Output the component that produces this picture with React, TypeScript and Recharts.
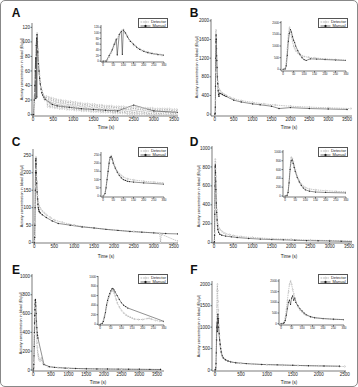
import { LineChart, Line, XAxis, YAxis } from 'recharts';

const FONT = '"Liberation Sans", Arial, Helvetica, sans-serif';

// [time (s), activity (Bq/µl)]
const aDetector = [
  [0, 0], [10, 0], [20, 2], [30, 15], [40, 30], [50, 48], [60, 62], [70, 80], [80, 95], [90, 108],
  [100, 112], [110, 100], [120, 90], [130, 72], [140, 68], [150, 56], [160, 54], [170, 45], [180, 44],
  [190, 38], [200, 37], [210, 32], [220, 33], [230, 28], [240, 29], [250, 25], [260, 26], [270, 22],
  [280, 24], [290, 20], [300, 22],
  [330, 25], [360, 11], [390, 24], [420, 10], [450, 23], [480, 10], [510, 22], [540, 9], [570, 21], [600, 9],
  [630, 20], [660, 8], [690, 20], [720, 8], [750, 19], [780, 8], [810, 19], [840, 7], [870, 18], [900, 7],
  [930, 18], [960, 7], [990, 17], [1020, 6], [1050, 17], [1080, 6], [1110, 16], [1140, 6], [1170, 16],
  [1200, 5], [1230, 15], [1260, 5], [1290, 15], [1320, 5], [1350, 15], [1380, 5], [1410, 14], [1440, 4],
  [1470, 14], [1500, 4], [1530, 14], [1560, 4], [1590, 13], [1620, 4], [1650, 13], [1680, 3], [1710, 13],
  [1740, 3], [1770, 12], [1800, 3], [1830, 12], [1860, 3], [1890, 12], [1920, 3], [1950, 12], [1980, 2],
  [2010, 11], [2040, 2], [2070, 11], [2100, 2], [2130, 11], [2160, 2], [2190, 11], [2220, 2], [2250, 11],
  [2280, 2], [2310, 10], [2340, 1], [2370, 10], [2400, 1], [2430, 10], [2460, 1], [2490, 10], [2520, 1],
  [2550, 10], [2580, 1], [2610, 10], [2640, 1], [2670, 9], [2700, 1], [2730, 9], [2760, 1], [2790, 9],
  [2820, 0], [2850, 9], [2880, 0], [2910, 9], [2940, 0], [2970, 9], [3000, 0], [3030, 8], [3060, 0],
  [3090, 8], [3120, 0], [3150, 8], [3180, 0], [3210, 8], [3240, 0], [3270, 8], [3300, 0], [3330, 8],
  [3360, 0], [3390, 8], [3420, 0], [3450, 7], [3480, 0], [3510, 7], [3540, 0], [3570, 7], [3600, 0],
];
const aManual = [
  [0, 0], [15, 0], [30, 20], [45, 40], [55, 60], [65, 78], [70, 22], [80, 95], [90, 105], [95, 24],
  [100, 110], [110, 100], [120, 86], [135, 70], [150, 60], [165, 50], [180, 42], [200, 35], [220, 30],
  [240, 27], [270, 24], [300, 21], [480, 14], [600, 12], [900, 10], [1200, 8], [1500, 7], [1800, 6],
  [2100, 5], [2500, 13], [3000, 5], [3600, 3],
];

const bDetector = [
  [0, 0], [5, 0], [10, 50], [15, 300], [20, 900], [25, 1500], [30, 1800], [35, 1650], [40, 1400],
  [45, 1200], [50, 1000], [55, 900], [60, 800], [70, 700], [80, 620], [90, 580], [100, 550], [120, 520],
  [150, 490], [200, 450], [250, 420], [300, 400], [400, 360], [500, 330], [700, 290], [1000, 250],
  [1300, 220], [1600, 195], [2000, 170], [2500, 150], [3000, 135], [3600, 120],
];
const bManual = [
  [0, 0], [10, 20], [15, 150], [20, 600], [25, 1200], [30, 1550], [35, 1700], [40, 1600], [45, 1400],
  [50, 1250], [55, 1150], [60, 1000], [70, 800], [80, 650], [90, 500], [100, 420], [110, 380], [130, 450],
  [160, 440], [200, 420], [250, 400], [300, 380], [500, 300], [700, 260], [1000, 220], [1200, 200],
  [1500, 170], [1700, 120], [2000, 140], [2500, 120], [3000, 110], [3500, 100],
];

const cDetector = [
  [0, 0], [5, 5], [10, 20], [15, 60], [20, 110], [25, 160], [30, 210], [35, 240], [40, 245], [45, 230],
  [50, 210], [55, 190], [60, 175], [70, 150], [80, 135], [90, 125], [100, 115], [120, 105], [150, 98],
  [200, 90], [250, 85], [300, 80], [400, 72], [500, 65], [700, 58], [1000, 50], [1500, 42], [2000, 36],
  [2500, 32], [3000, 28], [3150, 26], [3170, 0], [3190, 24], [3600, 4],
];
const cManual = [
  [0, 0], [10, 15], [15, 50], [20, 100], [25, 150], [30, 200], [35, 235], [40, 240], [45, 225], [50, 200],
  [60, 170], [70, 145], [80, 125], [90, 110], [100, 100], [110, 95], [120, 90], [130, 88], [150, 85],
  [200, 80], [300, 72], [450, 62], [600, 55], [900, 50], [1200, 45], [1500, 42], [1800, 38], [2100, 35],
  [2400, 32], [2700, 30], [3000, 28], [3300, 26], [3600, 25],
];

const dDetector = [
  [0, 0], [5, 0], [10, 20], [15, 100], [20, 350], [25, 650], [30, 880], [35, 850], [40, 780], [45, 700],
  [50, 600], [55, 520], [60, 450], [70, 350], [80, 270], [90, 220], [100, 190], [120, 160], [150, 140],
  [200, 120], [250, 105], [300, 95], [400, 85], [500, 75], [700, 65], [1000, 55], [1500, 42], [2000, 35],
  [2500, 28], [3000, 22], [3600, 18],
];
const dManual = [
  [0, 0], [10, 10], [15, 80], [20, 300], [25, 600], [30, 800], [35, 820], [40, 740], [45, 650], [50, 560],
  [60, 420], [70, 320], [80, 240], [90, 180], [100, 140], [120, 110], [150, 90], [200, 80], [300, 70],
  [450, 62], [600, 55], [900, 45], [1200, 38], [1500, 33], [1800, 30], [2100, 26], [2400, 22], [2700, 20],
  [3000, 18], [3300, 15], [3600, 12],
];

const eDetector = [
  [0, 0], [5, 0], [10, 30], [15, 80], [20, 160], [25, 260], [30, 380], [35, 470], [40, 560], [45, 620],
  [50, 680], [55, 720], [60, 700], [65, 660], [70, 600], [75, 520], [80, 450], [90, 360], [100, 290],
  [110, 240], [120, 200], [130, 170], [140, 150], [150, 130], [160, 110], [180, 100], [200, 100],
  [220, 120], [230, 125], [240, 110], [260, 80], [280, 65], [300, 55], [400, 40], [500, 32], [700, 25],
  [1000, 18], [1500, 12], [2000, 10], [2500, 8], [3000, 6], [3600, 5],
];
const eManual = [
  [0, 0], [10, 20], [15, 60], [20, 150], [25, 250], [30, 400], [35, 500], [40, 580], [45, 640], [50, 700],
  [55, 740], [60, 750], [65, 720], [70, 680], [80, 600], [90, 520], [100, 450], [110, 400], [120, 370],
  [130, 340], [300, 60], [450, 35], [600, 28], [900, 20], [1200, 16], [1500, 13], [1800, 11], [2100, 10],
  [2400, 9], [2700, 8], [3000, 7], [3300, 6], [3600, 5],
];

const fDetector = [
  [0, 0], [5, 0], [10, 20], [15, 100], [20, 300], [25, 700], [30, 1100], [35, 1500], [40, 1850],
  [45, 2000], [50, 1850], [55, 1600], [60, 1400], [65, 1200], [70, 1050], [80, 800], [90, 650],
  [100, 550], [110, 450], [120, 400], [140, 320], [160, 280], [200, 240], [250, 210], [300, 190],
  [400, 170], [500, 155], [700, 140], [1000, 125], [1300, 115], [1600, 105], [2000, 95], [2400, 85],
  [2500, 82],
];
const fManual = [
  [0, 0], [10, 10], [15, 50], [20, 150], [25, 400], [30, 700], [35, 1000], [40, 1100], [45, 900],
  [50, 1200], [55, 1300], [60, 1100], [65, 1200], [70, 1000], [80, 850], [90, 700], [100, 600],
  [110, 500], [120, 420], [140, 330], [160, 280], [200, 240], [250, 210], [300, 190], [400, 170],
  [600, 150], [900, 130], [1200, 120], [1500, 110], [1800, 100], [2100, 95], [2400, 90],
];

const timeTicks = [0, 500, 1000, 1500, 2000, 2500, 3000, 3500];
const timeTicksF = [0, 500, 1000, 1500, 2000, 2500];
const insetTimeTicks = [0, 50, 100, 150, 200, 250, 300];
const ticks120 = [0, 20, 40, 60, 80, 100, 120];
const ticks2000 = [0, 400, 800, 1200, 1600, 2000];
const ticks2000b = [0, 500, 1000, 1500, 2000];
const ticks250 = [0, 50, 100, 150, 200, 250];
const ticks1000 = [0, 200, 400, 600, 800, 1000];

const toPts = (arr) => arr.map(([t, v]) => ({ t, v }));

function Chart({ box, xd, yd, xt, yt, det, man, fs, r }) {
  const m = { top: 4, right: 6, bottom: 10, left: 18 };
  const w = box.r - box.l + m.left + 1 + m.right;
  const h = box.b - box.t + m.top + m.bottom + 1;
  const ax = { stroke: '#222', strokeWidth: 0.6 };
  return (
    <div style={{ position: 'absolute', left: box.l - m.left - 1, top: box.t - m.top }}>
      <LineChart width={w} height={h} margin={m}>
        <XAxis
          type="number"
          dataKey="t"
          domain={xd}
          ticks={xt}
          interval={0}
          allowDataOverflow
          height={1}
          tickSize={1.5}
          tickMargin={0.5}
          axisLine={ax}
          tickLine={ax}
          tick={{ fontSize: fs, fill: '#222', fontFamily: FONT }}
        />
        <YAxis
          type="number"
          dataKey="v"
          domain={yd}
          ticks={yt}
          interval={0}
          allowDataOverflow
          width={1}
          tickSize={1.5}
          tickMargin={0.5}
          axisLine={ax}
          tickLine={ax}
          tick={{ fontSize: fs, fill: '#222', fontFamily: FONT }}
        />
        <Line
          data={toPts(det)}
          dataKey="v"
          stroke="#8c8c8c"
          strokeWidth={0.5}
          strokeDasharray="1.5 0.8"
          dot={{ r, fill: '#fff', stroke: '#8c8c8c', strokeWidth: 0.4 }}
          isAnimationActive={false}
        />
        <Line
          data={toPts(man)}
          dataKey="v"
          stroke="#222"
          strokeWidth={0.5}
          dot={{ r, fill: '#222', stroke: 'none' }}
          isAnimationActive={false}
        />
      </LineChart>
    </div>
  );
}

function Legend({ x, y }) {
  const row = (label, color, dash, fill) => (
    <div style={{ display: 'flex', alignItems: 'center', height: 4.5 }}>
      <svg width={11} height={4}>
        <line x1={0.5} y1={2} x2={10.5} y2={2} stroke={color} strokeWidth={0.6} strokeDasharray={dash} />
        <circle cx={5.5} cy={2} r={0.9} fill={fill} stroke={color} strokeWidth={0.4} />
      </svg>
      <span style={{ fontSize: 4, marginLeft: 1.5, color: '#222' }}>{label}</span>
    </div>
  );
  return (
    <div
      style={{
        position: 'absolute', left: x, top: y, width: 30, height: 10,
        border: '0.6px solid #555', padding: '0.5px 1px', boxSizing: 'border-box',
        fontFamily: FONT, lineHeight: 1, background: '#fff',
      }}
    >
      {row('Detector', '#8c8c8c', '1.5 0.8', '#fff')}
      {row('Manual', '#111', undefined, '#111')}
    </div>
  );
}

function Text({ x, y, children, size = 4.5, rotate = false, bold = false }) {
  return (
    <div
      style={{
        position: 'absolute', left: x, top: y, fontFamily: FONT, fontSize: size,
        fontWeight: bold ? 700 : 400, whiteSpace: 'nowrap', color: '#111', lineHeight: 1,
        transform: `translate(-50%, -50%)${rotate ? ' rotate(-90deg)' : ''}`,
      }}
    >
      {children}
    </div>
  );
}

const yTitle = 'Activity concentration in blood (Bq/µl)';

function Panel({ letter, lx, ly, main, inset, legend, title, time }) {
  return (
    <>
      <Text x={lx} y={ly} size={12} bold>{letter}</Text>
      <Chart {...main} fs={4.5} r={0.7} />
      <Chart {...inset} fs={3} r={0.6} />
      <Legend x={legend[0]} y={legend[1]} />
      <Text x={title[0]} y={title[1]} size={3.8} rotate>{yTitle}</Text>
      <Text x={time[0]} y={time[1]} size={4.5}>Time (s)</Text>
    </>
  );
}

export default function App() {
  return (
    <div
      style={{
        position: 'absolute', left: 0, top: 0, width: 358, height: 387, background: '#fff',
        border: '1px solid #888', borderRadius: 5, boxSizing: 'border-box', overflow: 'hidden',
      }}
    >
      <Panel
        letter="A" lx={15} ly={12}
        main={{ box: { l: 31, r: 177, t: 22, b: 115 }, xd: [-25, 3600], yd: [-2, 126], xt: timeTicks, yt: ticks120, det: aDetector, man: aManual }}
        inset={{ box: { l: 100, r: 163, t: 24, b: 61 }, xd: [-10, 300], yd: [-3, 128], xt: insetTimeTicks, yt: ticks120, det: aDetector, man: aManual }}
        legend={[137, 17]} title={[22, 68]} time={[105, 127]}
      />
      <Panel
        letter="B" lx={193} ly={12}
        main={{ box: { l: 210, r: 351, t: 18, b: 115 }, xd: [-100, 3630], yd: [-40, 2040], xt: timeTicks, yt: ticks2000, det: bDetector, man: bManual }}
        inset={{ box: { l: 280, r: 345, t: 20, b: 70 }, xd: [-10, 300], yd: [-70, 2070], xt: insetTimeTicks, yt: ticks2000b, det: bDetector, man: bManual }}
        legend={[317, 17]} title={[197, 66]} time={[288, 127]}
      />
      <Panel
        letter="C" lx={15} ly={141}
        main={{ box: { l: 32, r: 177, t: 148, b: 242 }, xd: [-33, 3608], yd: [-1, 268], xt: timeTicks, yt: ticks250, det: cDetector, man: cManual }}
        inset={{ box: { l: 100, r: 163, t: 151, b: 196 }, xd: [-10, 300], yd: [-6, 268], xt: insetTimeTicks, yt: ticks250, det: cDetector, man: cManual }}
        legend={[137, 146]} title={[22, 195]} time={[105, 256]}
      />
      <Panel
        letter="D" lx={193} ly={141}
        main={{ box: { l: 211, r: 351, t: 145, b: 242 }, xd: [-52, 3580], yd: [-3, 1021], xt: timeTicks, yt: ticks1000, det: dDetector, man: dManual }}
        inset={{ box: { l: 282, r: 345, t: 149, b: 196 }, xd: [-10, 300], yd: [-23, 1045], xt: insetTimeTicks, yt: ticks1000, det: dDetector, man: dManual }}
        legend={[317, 146]} title={[199, 195]} time={[288, 256]}
      />
      <Panel
        letter="E" lx={15} ly={269}
        main={{ box: { l: 31, r: 163, t: 273, b: 370 }, xd: [-37, 3700], yd: [-11, 1021], xt: timeTicks, yt: ticks1000, det: eDetector, man: eManual }}
        inset={{ box: { l: 97, r: 163, t: 275, b: 324 }, xd: [-10, 300], yd: [-15, 1010], xt: insetTimeTicks, yt: ticks1000, det: eDetector, man: eManual }}
        legend={[137, 273]} title={[21, 322]} time={[97, 382]}
      />
      <Panel
        letter="F" lx={193} ly={269}
        main={{ box: { l: 211, r: 345, t: 280, b: 370 }, xd: [-58, 2525], yd: [-23, 2077], xt: timeTicksF, yt: ticks2000b, det: fDetector, man: fManual }}
        inset={{ box: { l: 278, r: 343, t: 278, b: 324 }, xd: [-10, 300], yd: [-61, 2094], xt: insetTimeTicks, yt: ticks2000b, det: fDetector, man: fManual }}
        legend={[317, 273]} title={[199, 325]} time={[288, 382]}
      />
    </div>
  );
}
